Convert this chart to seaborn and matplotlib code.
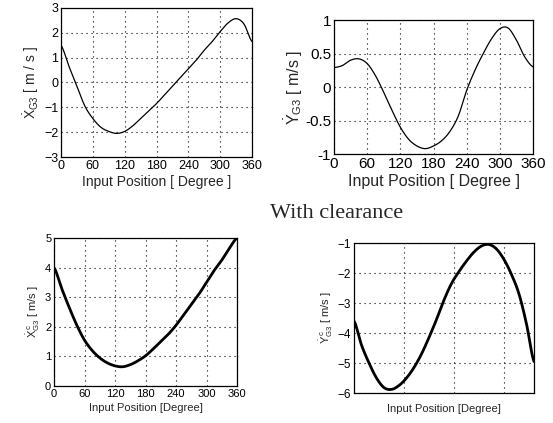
import numpy as np
import pandas as pd
import matplotlib
matplotlib.use("Agg")
import matplotlib.pyplot as plt
import seaborn as sns

deg = [0, 15, 30, 45, 60, 75, 90, 105, 120, 135, 150, 165, 180, 195, 210, 225,
       240, 255, 270, 285, 300, 315, 330, 345, 360]

xg3 = [1.5, 0.65, -0.15, -0.95, -1.45, -1.8, -1.97, -2.05, -1.97, -1.75, -1.45,
       -1.15, -0.85, -0.5, -0.15, 0.2, 0.55, 0.9, 1.3, 1.65, 2.05, 2.4, 2.57, 2.35, 1.65]
yg3 = [0.29, 0.32, 0.4, 0.42, 0.35, 0.17, -0.08, -0.35, -0.6, -0.78, -0.88, -0.92,
       -0.88, -0.8, -0.66, -0.43, -0.05, 0.25, 0.5, 0.72, 0.87, 0.88, 0.7, 0.45, 0.3]
xg3c = [4.0, 3.3, 2.65, 2.05, 1.55, 1.2, 0.95, 0.78, 0.68, 0.65, 0.72, 0.85, 1.02,
        1.25, 1.5, 1.75, 2.05, 2.4, 2.75, 3.1, 3.5, 3.9, 4.25, 4.65, 5.0]
yg3c = [-3.6, -4.4, -5.0, -5.5, -5.82, -5.88, -5.75, -5.5, -5.15, -4.7, -4.15, -3.55,
        -2.9, -2.35, -1.95, -1.6, -1.3, -1.1, -1.05, -1.2, -1.55, -2.05, -2.7, -3.7, -4.95]

xticks_deg = [0, 60, 120, 180, 240, 300, 360]
br_xticks = [100, 200, 300]

sns.set_style("white")
plt.rcParams["font.family"] = ["Liberation Sans", "DejaVu Sans"]
plt.rcParams["mathtext.fontset"] = "custom"
plt.rcParams["mathtext.rm"] = "Liberation Sans"
plt.rcParams["mathtext.it"] = "Liberation Sans"

W, H = 553, 423
fig = plt.figure(figsize=(W / 100, H / 100), dpi=100)


def add_ax(l, t, r, b):
    return fig.add_axes([l / W, 1 - b / H, (r - l) / W, (b - t) / H])


def smooth(x, y):
    xs = np.linspace(min(x), max(x), 361)
    from numpy import interp
    # cubic-ish smoothing via natural spline-like approach using numpy polyfit locally
    xs_arr = np.array(x, float)
    ys_arr = np.array(y, float)
    # Catmull-Rom
    out = []
    n = len(xs_arr)
    for i in range(n - 1):
        p0 = ys_arr[max(i - 1, 0)]
        p1 = ys_arr[i]
        p2 = ys_arr[i + 1]
        p3 = ys_arr[min(i + 2, n - 1)]
        ts = np.linspace(0, 1, 16, endpoint=False)
        for t in ts:
            v = 0.5 * ((2 * p1) + (-p0 + p2) * t + (2 * p0 - 5 * p1 + 4 * p2 - p3) * t ** 2
                       + (-p0 + 3 * p1 - 3 * p2 + p3) * t ** 3)
            out.append((xs_arr[i] + t * (xs_arr[i + 1] - xs_arr[i]), v))
    out.append((xs_arr[-1], ys_arr[-1]))
    return pd.DataFrame(out, columns=["deg", "val"])


def style(ax, fs):
    for s in ax.spines.values():
        s.set_visible(True)
        s.set_color("black")
        s.set_linewidth(0.9)
    ax.grid(True, linestyle=(0, (1, 3.5)), color="black", linewidth=0.8)
    ax.tick_params(direction="in", length=3, width=0.8, labelsize=fs, pad=2, colors="black")


ax1 = add_ax(61, 8, 252, 157)
sns.lineplot(data=smooth(deg, xg3), x="deg", y="val", color="black", linewidth=0.9, ax=ax1)
ax1.set_xlim(0, 360); ax1.set_ylim(-3, 3)
ax1.set_xticks(xticks_deg); ax1.set_yticks([-3, -2, -1, 0, 1, 2, 3])
style(ax1, 9)
ax1.set_xlabel("Input Position [ Degree ]", fontsize=10, labelpad=2)
ax1.set_ylabel(r"$\dot{\mathrm{X}}_{\mathrm{G3}}$ [ m / s ]", fontsize=10, labelpad=2)

ax2 = add_ax(334, 20, 533, 154)
sns.lineplot(data=smooth(deg, yg3), x="deg", y="val", color="black", linewidth=0.9, ax=ax2)
ax2.set_xlim(0, 360); ax2.set_ylim(-1, 1)
ax2.set_xticks(xticks_deg); ax2.set_yticks([-1, -0.5, 0, 0.5, 1])
ax2.set_yticklabels(["-1", "-0.5", "0", "0.5", "1"])
style(ax2, 11)
ax2.set_xlabel("Input Position [ Degree ]", fontsize=11.5, labelpad=2)
ax2.set_ylabel(r"$\dot{\mathrm{Y}}_{\mathrm{G3}}$ [ m/s ]", fontsize=11.5, labelpad=0)

ax3 = add_ax(54, 238, 237, 386)
sns.lineplot(data=smooth(deg, xg3c), x="deg", y="val", color="black", linewidth=2.0, ax=ax3)
ax3.set_xlim(0, 360); ax3.set_ylim(0, 5)
ax3.set_xticks(xticks_deg); ax3.set_yticks([0, 1, 2, 3, 4, 5])
style(ax3, 8)
ax3.set_xlabel("Input Position [Degree]", fontsize=8, labelpad=3)
ax3.set_ylabel(r"$\dot{\mathrm{X}}^{\,\mathrm{c}}_{\mathrm{G3}}$ [ m/s ]", fontsize=8, labelpad=2)

ax4 = add_ax(354, 243, 534, 393)
sns.lineplot(data=smooth(deg, yg3c), x="deg", y="val", color="black", linewidth=2.0, ax=ax4)
ax4.set_xlim(0, 360); ax4.set_ylim(-6, -1)
ax4.set_xticks(br_xticks); ax4.set_xticklabels([])
ax4.set_yticks([-6, -5, -4, -3, -2, -1])
style(ax4, 8.5)
ax4.set_xlabel("Input Position [Degree]", fontsize=8, labelpad=6)
ax4.set_ylabel(r"$\dot{\mathrm{Y}}^{\,\mathrm{c}}_{\mathrm{G3}}$ [ m/s ]", fontsize=8, labelpad=2)

fig.text(337 / W, 1 - 214 / H, "With clearance", family=["Liberation Serif", "DejaVu Serif"],
         fontsize=16, ha="center", va="center")

fig.savefig("out.png", dpi=100, facecolor="white")
